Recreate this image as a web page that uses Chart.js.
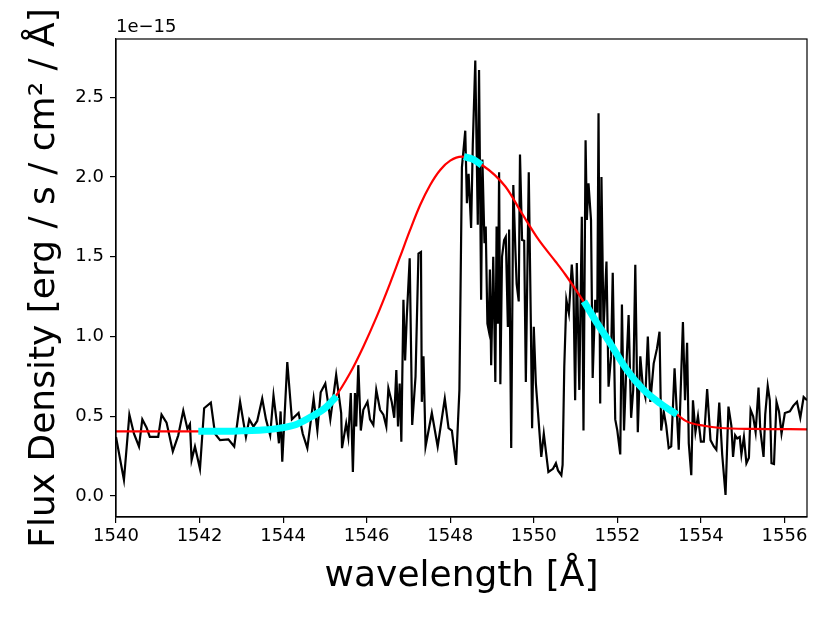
<!DOCTYPE html>
<html>
<head>
<meta charset="utf-8">
<script src="https://cdn.jsdelivr.net/npm/chart.js@4.4.0/dist/chart.umd.min.js"></script>
<style>
  body { margin: 0; background: #fff; }
  #wrap { width: 830px; height: 623px; }
</style>
</head>
<body>
<div id="wrap"><canvas id="specChart" width="830" height="623"></canvas></div>
<script>
// observed spectrum (flux in units of 1e-15)
const waveObs = [1540.00,1540.19,1540.32,1540.43,1540.55,1540.63,1540.73,1540.81,1541.01,1541.09,
  1541.21,1541.36,1541.49,1541.61,1541.71,1541.77,1541.81,1541.89,1542.01,1542.11,
  1542.27,1542.37,1542.49,1542.69,1542.83,1542.97,1543.11,1543.19,1543.29,1543.38,
  1543.50,1543.59,1543.69,1543.77,1543.86,1543.90,1543.94,1543.98,1544.10,1544.21,
  1544.37,1544.47,1544.58,1544.73,1544.82,1544.90,1545.01,1545.13,1545.27,1545.39,
  1545.41,1545.51,1545.56,1545.62,1545.67,1545.72,1545.75,1545.80,1545.86,1545.92,
  1546.02,1546.08,1546.16,1546.23,1546.32,1546.40,1546.47,1546.52,1546.60,1546.66,
  1546.71,1546.75,1546.79,1546.83,1546.88,1546.92,1546.96,1547.03,1547.09,1547.17,
  1547.24,1547.30,1547.32,1547.36,1547.41,1547.56,1547.70,1547.87,1547.96,1548.04,
  1548.14,1548.22,1548.28,1548.36,1548.40,1548.44,1548.50,1548.54,1548.60,1548.66,
  1548.69,1548.74,1548.77,1548.82,1548.85,1548.89,1548.92,1548.95,1548.98,1549.03,
  1549.08,1549.11,1549.14,1549.17,1549.20,1549.24,1549.29,1549.33,1549.38,1549.41,
  1549.46,1549.51,1549.56,1549.59,1549.64,1549.67,1549.72,1549.77,1549.81,1549.88,
  1549.93,1549.96,1550.00,1550.05,1550.18,1550.24,1550.35,1550.46,1550.53,1550.58,
  1550.66,1550.69,1550.73,1550.78,1550.84,1550.91,1550.95,1550.99,1551.03,1551.09,
  1551.15,1551.19,1551.24,1551.27,1551.31,1551.37,1551.41,1551.47,1551.52,1551.55,
  1551.59,1551.62,1551.67,1551.74,1551.79,1551.85,1551.89,1551.95,1552.00,1552.07,
  1552.11,1552.16,1552.21,1552.27,1552.33,1552.38,1552.43,1552.49,1552.55,1552.61,
  1552.67,1552.73,1552.79,1552.87,1552.95,1553.01,1553.05,1553.11,1553.17,1553.23,
  1553.29,1553.37,1553.47,1553.57,1553.62,1553.67,1553.71,1553.77,1553.81,1553.87,
  1553.93,1554.00,1554.07,1554.15,1554.23,1554.31,1554.37,1554.44,1554.51,1554.59,
  1554.66,1554.73,1554.77,1554.82,1554.87,1554.93,1554.97,1555.03,1555.09,1555.15,
  1555.19,1555.25,1555.31,1555.38,1555.42,1555.50,1555.54,1555.60,1555.65,1555.69,
  1555.75,1555.81,1555.87,1555.93,1556.01,1556.13,1556.21,1556.30,1556.38,1556.46,
  1556.54];
const fluxObs = [0.37,0.10,0.51,0.39,0.31,0.48,0.43,0.37,0.37,0.51,
  0.46,0.28,0.38,0.535,0.42,0.45,0.225,0.31,0.17,0.55,
  0.585,0.39,0.35,0.355,0.31,0.59,0.37,0.48,0.435,0.47,
  0.61,0.48,0.38,0.63,0.435,0.33,0.53,0.215,0.84,0.48,
  0.52,0.39,0.30,0.61,0.41,0.65,0.705,0.48,0.76,0.52,
  0.30,0.455,0.37,0.645,0.15,0.645,0.435,0.82,0.41,0.54,
  0.59,0.48,0.445,0.665,0.54,0.51,0.435,0.675,0.59,0.49,
  0.79,0.435,0.705,0.34,1.23,0.85,1.12,1.49,0.445,0.75,
  1.52,1.53,0.59,0.875,0.31,0.52,0.31,0.61,0.425,0.41,
  0.195,0.665,2.06,2.29,1.835,2.02,1.68,2.20,2.73,1.70,
  2.67,1.23,2.11,1.585,1.69,1.08,1.04,1.42,0.82,1.50,
  0.715,1.69,1.08,2.03,0.70,1.50,1.605,1.625,1.06,1.67,
  0.30,1.95,1.54,1.33,1.22,2.14,1.605,1.60,0.715,2.03,
  1.08,0.425,1.06,0.705,0.245,0.39,0.15,0.17,0.205,0.16,
  0.13,0.195,0.81,1.23,1.145,1.45,1.30,0.60,1.46,0.665,
  1.75,0.41,2.23,1.73,1.96,1.73,0.74,1.23,1.15,2.40,
  0.58,2.00,1.04,1.47,0.685,0.875,1.40,0.48,0.41,0.26,
  1.20,0.41,0.77,1.135,0.49,0.665,1.45,0.40,0.875,0.685,
  0.62,1.00,0.59,0.83,0.925,1.03,0.41,0.53,0.44,0.30,
  0.31,0.80,0.29,1.09,0.60,0.96,0.33,0.13,0.60,0.40,
  0.50,0.34,0.34,0.67,0.35,0.31,0.29,0.585,0.26,0.006,
  0.56,0.44,0.245,0.38,0.36,0.37,0.26,0.37,0.205,0.24,
  0.54,0.50,0.40,0.68,0.42,0.245,0.51,0.69,0.60,0.205,
  0.20,0.59,0.53,0.39,0.52,0.53,0.565,0.59,0.49,0.62,
  0.60];

// model fit (red)
const waveFit = [1540.0,1541.0,1542.0,1543.0,1543.5,1544.0,1544.4,1544.8,1545.25,1545.6,
  1545.92,1546.24,1546.56,1546.8,1547.04,1547.28,1547.52,1547.76,1548.0,1548.28,
  1548.76,1549.32,1549.72,1550.12,1550.52,1550.75,1551.19,1551.83,1552.23,1552.63,
  1553.03,1553.43,1553.67,1554.07,1554.47,1555.27,1556.54];
const fluxFit = [0.405,0.405,0.405,0.408,0.413,0.425,0.452,0.51,0.623,0.769,
  0.936,1.124,1.333,1.50,1.668,1.824,1.95,2.044,2.102,2.127,
  2.075,1.94,1.77,1.605,1.47,1.39,1.22,0.957,0.79,0.665,
  0.58,0.51,0.466,0.44,0.426,0.42,0.418];

// highlighted fit windows (cyan)
const waveWinA = [1541.97,1542.5,1543.0,1543.5,1543.93,1544.33,1544.73,1545.0,1545.28];
const fluxWinA = [0.405,0.405,0.408,0.413,0.425,0.45,0.505,0.55,0.625];
const waveWinB = [1548.33,1548.55,1548.75];
const fluxWinB = [2.127,2.11,2.075];
const waveWinC = [1551.20,1551.5,1551.83,1552.23,1552.63,1553.03,1553.43];
const fluxWinC = [1.22,1.09,0.957,0.79,0.665,0.58,0.51];

// ticks
const xTicks = [1540,1542,1544,1546,1548,1550,1552,1554,1556];
const yTicks = [0.0,0.5,1.0,1.5,2.0,2.5];

function pts(xs, ys) {
  return xs.map(function(x, i){ return {x: x, y: ys[i]}; });
}

// frame + offset label
const framePlugin = {
  id: 'frame',
  afterDraw: function(chart) {
    const a = chart.chartArea;
    const c = chart.ctx;
    c.save();
    c.strokeStyle = '#000';
    c.lineWidth = 1.2;
    c.strokeRect(a.left, a.top, a.right - a.left, a.bottom - a.top);
    c.fillStyle = '#000';
    c.font = '18px "DejaVu Sans"';
    c.textAlign = 'left';
    c.textBaseline = 'bottom';
    c.fillText('1e\u221215', a.left, a.top - 3);
    c.restore();
  }
};

const tickFont = {family: 'DejaVu Sans', size: 18};
const titleFont = {family: 'DejaVu Sans', size: 36};

const ctx = document.getElementById('specChart');
const specChart = new Chart(ctx, {
  type: 'line',
  data: {
    datasets: [
      {data: pts(waveObs, fluxObs), borderColor: '#000', borderWidth: 2.2, pointRadius: 0, tension: 0, order: 3},
      {data: pts(waveFit, fluxFit), borderColor: '#ff0000', borderWidth: 2.2, pointRadius: 0, cubicInterpolationMode: 'monotone', order: 2},
      {data: pts(waveWinA, fluxWinA), borderColor: '#00ffff', borderWidth: 7, pointRadius: 0, cubicInterpolationMode: 'monotone', order: 1},
      {data: pts(waveWinB, fluxWinB), borderColor: '#00ffff', borderWidth: 7, pointRadius: 0, cubicInterpolationMode: 'monotone', order: 1},
      {data: pts(waveWinC, fluxWinC), borderColor: '#00ffff', borderWidth: 7, pointRadius: 0, cubicInterpolationMode: 'monotone', order: 1}
    ]
  },
  options: {
    responsive: false,
    animation: false,
    layout: {padding: {left: 0, top: 39, right: 23, bottom: 0}},
    plugins: {legend: {display: false}, tooltip: {enabled: false}},
    scales: {
      x: {
        type: 'linear',
        min: 1540, max: 1556.54,
        afterBuildTicks: function(s){ s.ticks = xTicks.map(function(v){ return {value: v}; }); },
        afterFit: function(s){ s.height = 106; },
        ticks: {color: '#000', font: tickFont, padding: 3, maxRotation: 0,
          callback: function(v){ return String(v); }},
        grid: {drawOnChartArea: false, drawTicks: true, tickLength: 6, color: '#000', lineWidth: 1.2},
        border: {display: true, color: '#000', width: 1.2},
        title: {display: true, text: 'wavelength [Å]', color: '#000', font: titleFont, padding: {top: 0, bottom: 25}}
      },
      y: {
        min: -0.132, max: 2.865,
        afterBuildTicks: function(s){ s.ticks = yTicks.map(function(v){ return {value: v}; }); },
        afterFit: function(s){ s.width = 116; },
        ticks: {color: '#000', font: tickFont, padding: 6,
          callback: function(v){ return v.toFixed(1); }},
        grid: {drawOnChartArea: false, drawTicks: true, tickLength: 6, color: '#000', lineWidth: 1.2},
        border: {display: true, color: '#000', width: 1.2},
        title: {display: true, text: 'Flux Density [erg / s / cm² / Å]', color: '#000', font: titleFont, padding: {top: 23, bottom: 0}}
      }
    }
  },
  plugins: [framePlugin]
});
</script>
</body>
</html>
